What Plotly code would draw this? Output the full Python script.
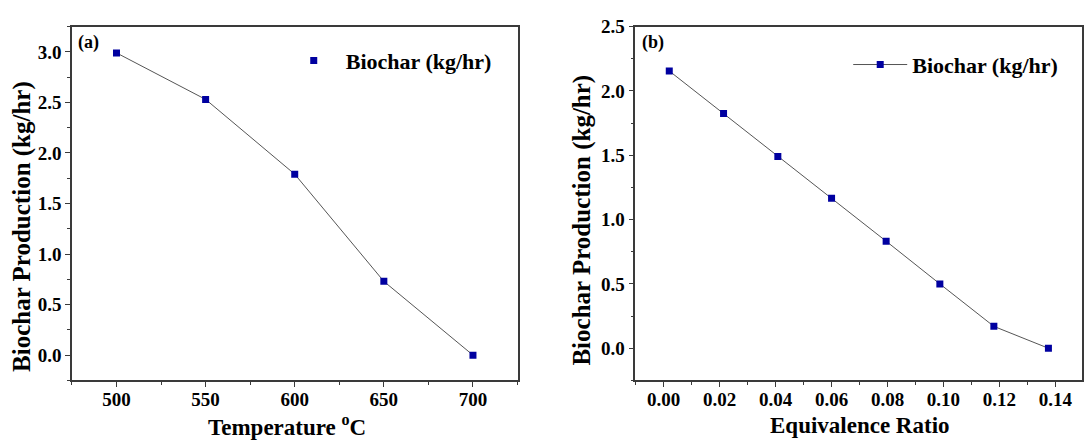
import plotly.graph_objects as go

# Panel (a): biochar production vs gasification temperature
temperature_c = [500, 550, 600, 650, 700]
biochar_temp = [2.99, 2.53, 1.79, 0.73, 0.0]

# Panel (b): biochar production vs equivalence ratio
equiv_ratio = [0.002, 0.0214, 0.0408, 0.060, 0.0795, 0.0987, 0.118, 0.1375]
biochar_er = [2.155, 1.825, 1.49, 1.165, 0.832, 0.50, 0.17, 0.0]

series_name = "Biochar (kg/hr)"
y_title = "Biochar Production (kg/hr)"

W, H = 1084, 441
FONT = "Liberation Serif"
MARK = "#0000A0"
LINE = "#555555"
AXIS = "#3a3a3a"


def px(x):
    return x / W


def py(y):
    return 1 - y / H


fig = go.Figure()

# (a) connecting line without legend, markers with legend entry
fig.add_trace(go.Scatter(x=temperature_c, y=biochar_temp, mode="lines",
                         line=dict(color=LINE, width=1), showlegend=False,
                         xaxis="x", yaxis="y"))
fig.add_trace(go.Scatter(x=temperature_c, y=biochar_temp, mode="markers",
                         marker=dict(symbol="square", size=7, color=MARK),
                         name=series_name, legend="legend",
                         xaxis="x", yaxis="y"))
# (b) line + markers
fig.add_trace(go.Scatter(x=equiv_ratio, y=biochar_er, mode="lines+markers",
                         line=dict(color=LINE, width=1),
                         marker=dict(symbol="square", size=7, color=MARK),
                         name=series_name, legend="legend2",
                         xaxis="x2", yaxis="y2"))

axis_common = dict(
    showline=True, linecolor=AXIS, linewidth=1.5, mirror=True,
    ticks="outside", ticklen=5, tickwidth=1, tickcolor=AXIS,
    showgrid=False, zeroline=False,
    tickfont=dict(family=FONT, size=19, color="black", weight="bold"),
)

ydom = [py(379), py(17)]

legend_font = dict(family=FONT, size=22, color="black", weight="bold")

fig.update_layout(
    width=W, height=H,
    margin=dict(l=0, r=0, t=0, b=0),
    paper_bgcolor="white", plot_bgcolor="white",
    font=dict(family=FONT, color="black"),
    xaxis=dict(domain=[px(72), px(518)], range=[475, 725], dtick=50,
               ticklabelstandoff=-4,
               minor=dict(dtick=25, ticks="outside", ticklen=3, tickcolor=AXIS),
               anchor="y", **axis_common),
    yaxis=dict(domain=ydom, range=[-0.25, 3.25], dtick=0.5, tickformat=".1f",
               minor=dict(dtick=0.25, ticks="outside", ticklen=3, tickcolor=AXIS),
               anchor="x", **axis_common),
    xaxis2=dict(domain=[px(636), px(1083)], range=[-0.0101, 0.1495], dtick=0.02,
                tickformat=".2f", tick0=0, ticklabelstandoff=-4,
                minor=dict(dtick=0.01, ticks="outside", ticklen=3, tickcolor=AXIS),
                anchor="y2", **axis_common),
    yaxis2=dict(domain=ydom, range=[-0.25, 2.5], dtick=0.5, tickformat=".1f",
                minor=dict(dtick=0.25, ticks="outside", ticklen=3, tickcolor=AXIS),
                anchor="x2", **axis_common),
    legend=dict(x=px(282), y=py(52), xanchor="left", yanchor="middle",
                itemwidth=54, bgcolor="rgba(0,0,0,0)", font=legend_font),
    legend2=dict(x=px(849), y=py(56), xanchor="left", yanchor="middle",
                 itemwidth=54, bgcolor="rgba(0,0,0,0)", font=legend_font),
)

ytitle_font = dict(family=FONT, size=25, color="black", weight="bold")
xtitle_font = dict(family=FONT, size=23, color="black", weight="bold")
label_font = dict(family=FONT, size=18, color="black", weight="bold")

annotations = [
    dict(text=y_title, x=px(22), y=py(221), textangle=-90, font=ytitle_font),
    dict(text=y_title, x=px(583), y=py(215), textangle=-90, font=ytitle_font),
    dict(text="Temperature <sup>o</sup>C", x=px(287), y=py(425), font=xtitle_font),
    dict(text="Equivalence Ratio", x=px(861), y=py(425), font=xtitle_font),
    dict(text="(a)", x=px(76), y=py(33), xanchor="left", font=label_font),
    dict(text="(b)", x=px(641), y=py(33), xanchor="left", font=label_font),
]
for a in annotations:
    a.setdefault("xanchor", "center")
    a.update(xref="paper", yref="paper", yanchor="middle", showarrow=False)
fig.update_layout(annotations=annotations)

fig.write_html("out.html")
